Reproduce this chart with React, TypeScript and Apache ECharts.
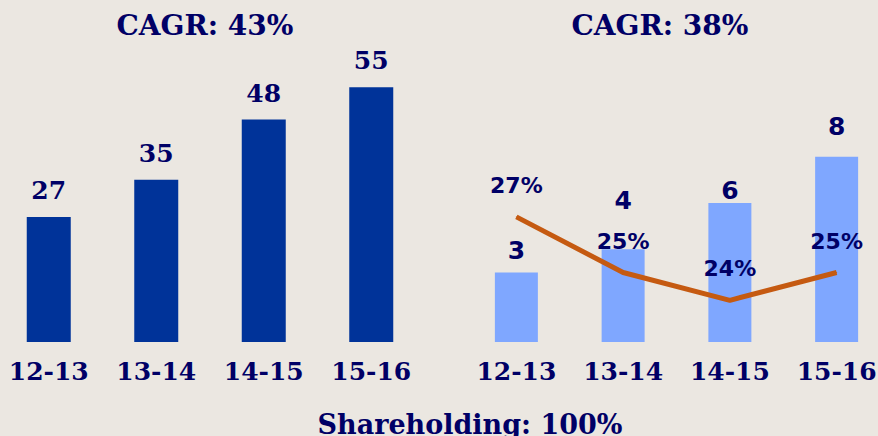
import React, { useEffect, useRef } from "react";
import * as echarts from "echarts";

const categories = ["12-13", "13-14", "14-15", "15-16"];
const leftValues = [27, 35, 48, 55];
const rightValues = [3, 4, 6, 8];
const marginPct = [27, 25, 24, 25];
const leftTitle = "CAGR: 43%";
const rightTitle = "CAGR: 38%";
const footer = "Shareholding: 100%";
// label distance above each right-hand bar (as placed in the source)
const rightLabelDistance = [10, 36, 0, 18];

const NAVY = "#000066";
const SERIF = "'DejaVu Serif', serif";
const SANS = "'DejaVu Sans', sans-serif";
// the chart canvas is slightly wider than the window so the outer bars can sit near the edges
const OFF = 24;

export default function App() {
  const ref = useRef<HTMLDivElement>(null);
  useEffect(() => {
    if (!ref.current) return;
    const chart = echarts.init(ref.current, undefined, { renderer: "svg" });
    const cat = (gridIndex: number) => ({
      type: "category",
      gridIndex,
      data: categories,
      axisLine: { show: false },
      axisTick: { show: false },
      axisLabel: {
        interval: 0,
        color: NAVY,
        fontFamily: SERIF,
        fontWeight: "bold",
        fontSize: 25,
        margin: 17,
      },
    });
    const val = (gridIndex: number, min: number, max: number) => ({
      type: "value",
      gridIndex,
      min,
      max,
      show: false,
      splitLine: { show: false },
    });
    const titleStyle = { color: NAVY, fontFamily: SERIF, fontWeight: "bold", fontSize: 28 };
    chart.setOption({
      animation: false,
      backgroundColor: "#EBE7E1",
      title: [
        { text: leftTitle, left: 200 + OFF, top: 6, textAlign: "center", textStyle: titleStyle },
        { text: rightTitle, left: 655 + OFF, top: 6, textAlign: "center", textStyle: titleStyle },
        { text: footer, left: 465 + OFF, top: 406, textAlign: "center", textStyle: { ...titleStyle, fontSize: 27 } },
      ],
      grid: [
        { left: -5 + OFF, width: 430, top: 64, bottom: 94 },
        { left: 463 + OFF, width: 427, top: 64, bottom: 94 },
      ],
      xAxis: [cat(0), cat(1)],
      yAxis: [val(0, 0, 60), val(1, 0, 12), val(1, 22.5, 32.5)],
      series: [
        {
          type: "bar",
          xAxisIndex: 0,
          yAxisIndex: 0,
          data: leftValues,
          barWidth: 44,
          itemStyle: { color: "#003399" },
          label: {
            show: true,
            position: "top",
            distance: 14,
            color: NAVY,
            fontFamily: SERIF,
            fontWeight: "bold",
            fontSize: 25,
          },
        },
        {
          type: "bar",
          xAxisIndex: 1,
          yAxisIndex: 1,
          data: rightValues.map((v, i) => ({
            value: v,
            label: { distance: rightLabelDistance[i] },
          })),
          barWidth: 43,
          itemStyle: { color: "#7FA7FF" },
          label: {
            show: true,
            position: "top",
            color: NAVY,
            fontFamily: SANS,
            fontWeight: "bold",
            fontSize: 25,
          },
        },
        {
          type: "line",
          xAxisIndex: 1,
          yAxisIndex: 2,
          data: marginPct,
          symbol: "circle",
          symbolSize: 1,
          showSymbol: true,
          lineStyle: { color: "#C55A11", width: 5 },
          itemStyle: { color: "#C55A11" },
          label: {
            show: true,
            position: "top",
            distance: 20,
            formatter: "{c}%",
            color: NAVY,
            fontFamily: SANS,
            fontWeight: "bold",
            fontSize: 22,
          },
        },
      ],
    });
    return () => chart.dispose();
  }, []);
  return (
    <div
      ref={ref}
      style={{ position: "fixed", left: -OFF, top: 0, width: 878 + 2 * OFF, height: 436 }}
    />
  );
}
